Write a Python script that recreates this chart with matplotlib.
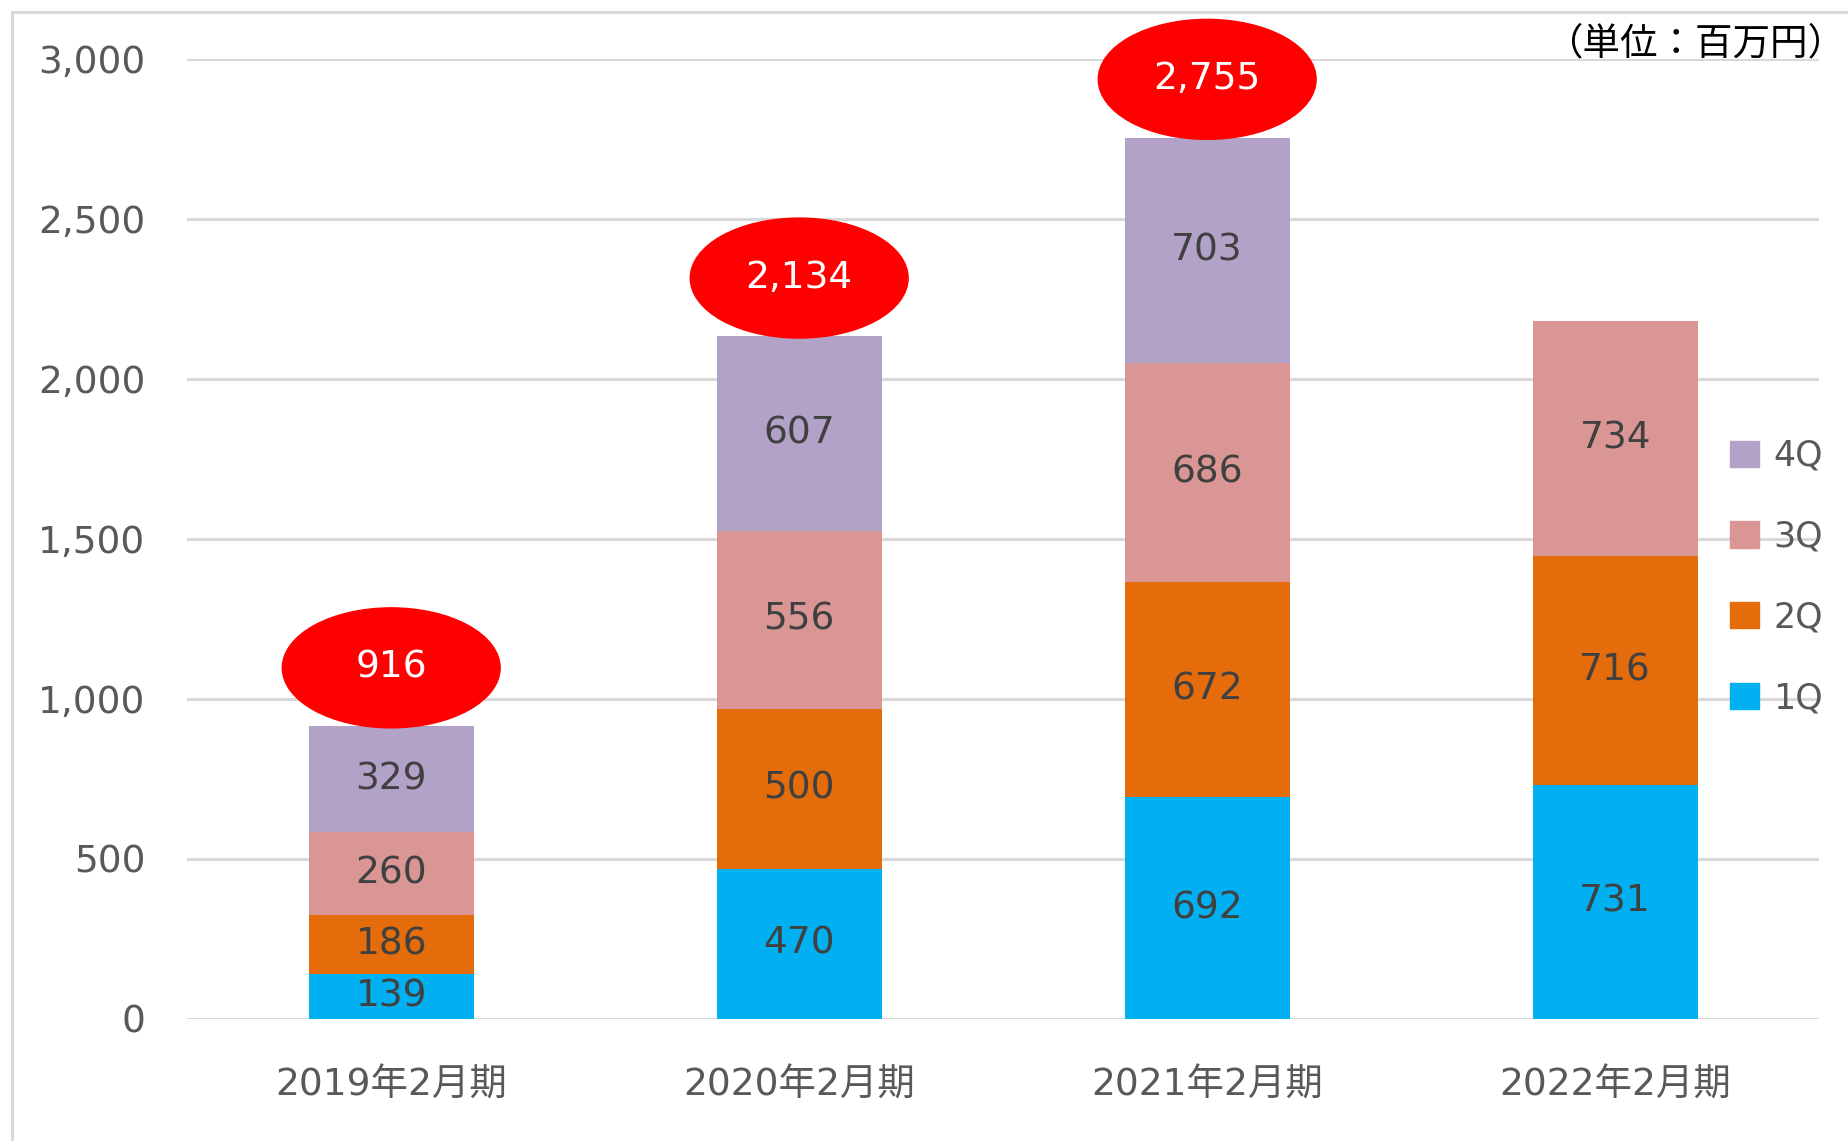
import matplotlib.pyplot as plt
from matplotlib.patches import Ellipse, Patch
from matplotlib.lines import Line2D

plt.rcParams['font.family'] = ['DejaVu Sans', 'Noto Sans CJK JP']

# Datos (百万円)
periods = ['2019年2月期', '2020年2月期', '2021年2月期', '2022年2月期']
q1 = [139, 470, 692, 731]
q2 = [186, 500, 672, 716]
q3 = [260, 556, 686, 734]
q4 = [329, 607, 703, 0]
totals = [916, 2134, 2755, None]
series_names = ['1Q', '2Q', '3Q', '4Q']
colors = ['#00B0F0', '#E46C0A', '#D99694', '#B3A2C7']

fig = plt.figure(figsize=(18.48, 11.41), dpi=100)
ax = fig.add_axes([0.1013, 0.1070, 0.8831, 0.8414])

x = list(range(len(periods)))
bottom = [0] * len(periods)
for vals, col in zip([q1, q2, q3, q4], colors):
    ax.bar(x, vals, width=0.404, bottom=bottom, color=col, edgecolor='none', zorder=2)
    for i, v in enumerate(vals):
        if v > 0:
            ax.text(i, bottom[i] + v / 2, str(v), ha='center', va='center',
                    fontsize=27, color='#404040', zorder=3)
    bottom = [b + v for b, v in zip(bottom, vals)]

# Totales en elipses rojas
for i, t in enumerate(totals):
    if t is None:
        continue
    cy = t + 181
    ax.add_patch(Ellipse((i, cy), 0.534, 375, color='#FF0000', zorder=4, clip_on=False))
    ax.text(i, cy, f'{t:,}', ha='center', va='center', fontsize=27,
            color='white', zorder=5)

ax.set_xlim(-0.5, 3.5)
ax.set_ylim(0, 3000)
ax.set_yticks(range(0, 3001, 500))
ax.set_yticklabels([f'{v:,}' for v in range(0, 3001, 500)])
ax.set_xticks(x)
ax.set_xticklabels(periods)
ax.tick_params(axis='both', length=0, labelsize=27, colors='#595959')
ax.tick_params(axis='x', pad=35)
ax.tick_params(axis='y', pad=30)
ax.grid(axis='y', color='#D9D9D9', linewidth=2.2, zorder=0)
for s in ax.spines.values():
    s.set_visible(False)
ax.set_axisbelow(True)

# Leyenda
handles = [Patch(color=c) for c in colors][::-1]
leg = fig.legend(handles, series_names[::-1], loc='center left',
                 bbox_to_anchor=(0.936, 0.4943), bbox_transform=fig.transFigure,
                 frameon=False, fontsize=25, handlelength=0.85, handleheight=0.78,
                 handletextpad=0.4, labelspacing=1.35, borderpad=0, borderaxespad=0)
for t in leg.get_texts():
    t.set_color('#595959')

# Unidad
fig.text(0.999, 1 - 44 / 1141, '（単位：百万円）', ha='right', va='center',
         fontsize=27, color='black', family=['Noto Sans CJK JP', 'DejaVu Sans'])

# Borde del área del gráfico
fig.add_artist(Line2D([12 / 1848, 12 / 1848], [0, 1 - 12 / 1141],
                      color='#D9D9D9', linewidth=2.2))
fig.add_artist(Line2D([12 / 1848, 1], [1 - 12 / 1141, 1 - 12 / 1141],
                      color='#D9D9D9', linewidth=2.2))

plt.savefig('out.png', dpi=100)
